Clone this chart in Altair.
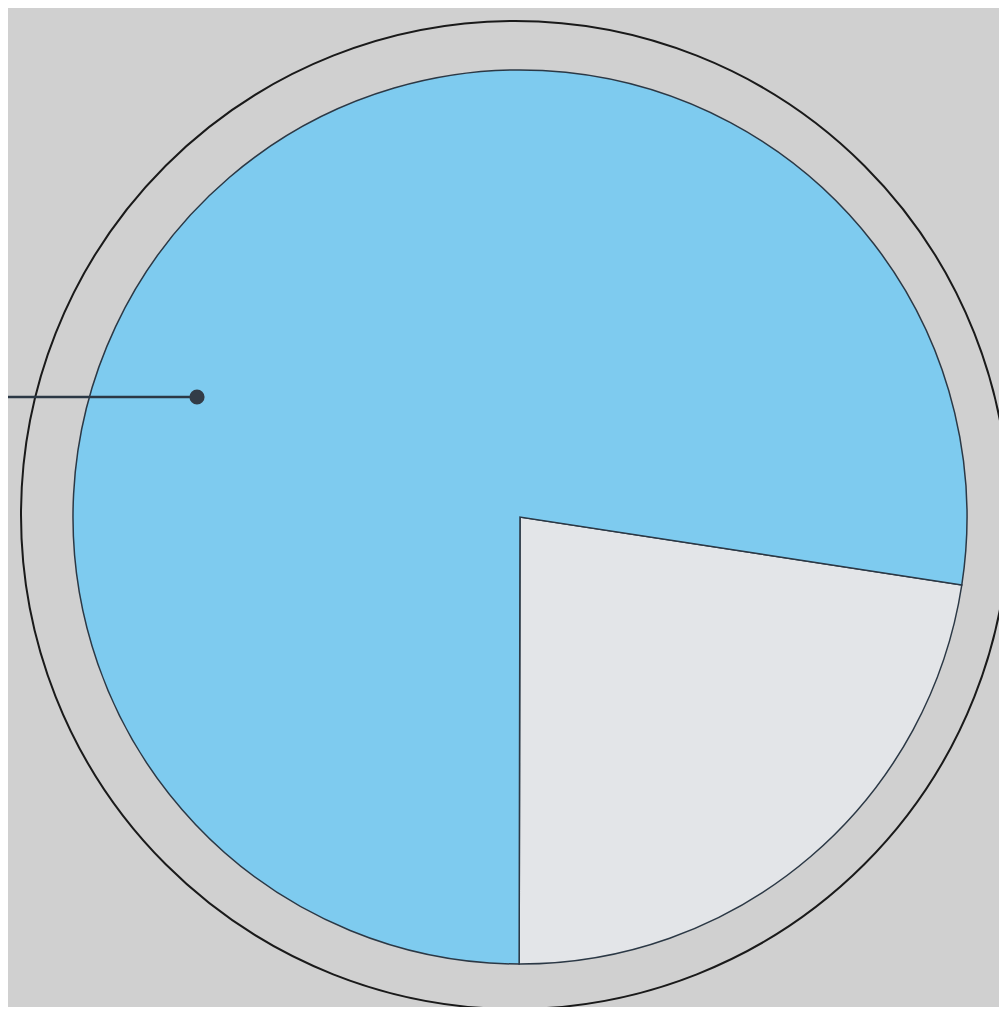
import altair as alt
import pandas as pd
import math

categories = ["Minor", "Major"]
values = [22.6, 77.4]
colors = ["#e3e5e8", "#7ecbef"]

start_deg = 98.75
start = math.radians(start_deg)

df = pd.DataFrame({"cat": categories, "val": values, "ord": [0, 1]})

W, H = 991, 999
cx, cy = 512, 509
R_in = 447
R_out = 494

pie = alt.Chart(df).mark_arc(radius=R_in, stroke="#2b3845", strokeWidth=1.5).encode(
    theta=alt.Theta("val:Q", stack=True, scale=alt.Scale(range=[start, start + 2 * math.pi])),
    color=alt.Color("cat:N", scale=alt.Scale(domain=categories, range=colors), legend=None),
    order=alt.Order("ord:Q"),
    x=alt.value(cx),
    y=alt.value(cy),
)

ring = alt.Chart(pd.DataFrame({"v": [1]})).mark_arc(
    radius=R_out, fill="#d0d0d0", stroke="#1a1a1a", strokeWidth=2
).encode(
    theta=alt.Theta("v:Q", scale=alt.Scale(domain=[0, 1], range=[0, 2 * math.pi])),
    x=alt.value(507),
    y=alt.value(507),
)

leader = alt.Chart(pd.DataFrame({"v": [1]})).mark_rule(color="#2b3845", strokeWidth=2.5).encode(
    x=alt.value(-8), x2=alt.value(189), y=alt.value(389)
)

dot = alt.Chart(pd.DataFrame({"v": [1]})).mark_point(
    filled=True, shape="circle", size=230, color="#323c47", opacity=1
).encode(x=alt.value(189), y=alt.value(389))

chart = alt.layer(ring, pie, leader, dot).resolve_scale(theta="independent").properties(
    width=W, height=H, autosize=alt.AutoSizeParams(type="none"), padding=0,
    background="#d0d0d0"
).configure_view(stroke=None)

chart.save("out.html", embed_options={"renderer": "svg", "actions": False})
